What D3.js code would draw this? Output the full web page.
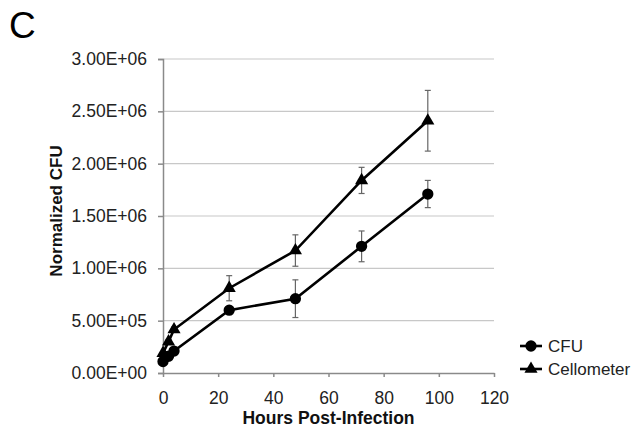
<!DOCTYPE html>
<html>
<head>
<meta charset="utf-8">
<script src="https://cdn.jsdelivr.net/npm/d3@7"></script>
<style>
  body { margin: 0; background: #fff; }
  svg { font-family: "Liberation Sans", Arial, sans-serif; }
</style>
</head>
<body>
<svg id="chart"></svg>
<script>
// data
const hours = [0, 2, 4, 24, 48, 72, 96];
const cfu = [1.1e5, 1.6e5, 2.1e5, 6.0e5, 7.1e5, 1.21e6, 1.71e6];
const cfuErr = [1.0e4, 1.0e4, 1.5e4, 2.5e4, 1.8e5, 1.47e5, 1.3e5];
const cello = [1.9e5, 3.0e5, 4.15e5, 8.1e5, 1.17e6, 1.84e6, 2.41e6];
const celloErr = [1.5e4, 2.0e4, 2.5e4, 1.2e5, 1.5e5, 1.25e5, 2.9e5];
const yTicks = [0, 5e5, 1e6, 1.5e6, 2e6, 2.5e6, 3e6];
const xTicks = [0, 20, 40, 60, 80, 100, 120];
const seriesNames = ['CFU', 'Cellometer'];

const width = 637, height = 437;
const margin = { top: 59, right: 143, bottom: 64, left: 163 };
const font = '"Liberation Sans", Arial, sans-serif';

const svg = d3.select('#chart').attr('width', width).attr('height', height);

const x = d3.scaleLinear().domain([0, 120]).range([margin.left, width - margin.right]);
const y = d3.scaleLinear().domain([0, 3e6]).range([height - margin.bottom, margin.top]);

const fmt = v => {
  const e = v === 0 ? 0 : Math.floor(Math.log10(v));
  const m = v === 0 ? 0 : v / Math.pow(10, e);
  return m.toFixed(2) + 'E+' + String(e).padStart(2, '0');
};

// gridlines
svg.append('g')
  .selectAll('line')
  .data(yTicks.slice(1))
  .enter()
  .append('line')
  .attr('x1', x(0)).attr('x2', x(120))
  .attr('y1', d => y(d)).attr('y2', d => y(d))
  .attr('stroke', '#c8c8c8')
  .attr('stroke-width', 1.2);

// y axis
const yAxis = svg.append('g')
  .attr('transform', `translate(${x(0)},0)`)
  .call(d3.axisLeft(y).tickValues(yTicks).tickFormat(fmt).tickSize(5).tickPadding(11));
yAxis.select('.domain').attr('stroke', '#8a8a8a').attr('stroke-width', 1.5);
yAxis.selectAll('.tick line').attr('stroke', '#8a8a8a').attr('stroke-width', 1.5);
yAxis.selectAll('.tick text').attr('font-size', '17.5px').attr('fill', '#222')
  .attr('font-family', font);

// x axis
const xAxis = svg.append('g')
  .attr('transform', `translate(0,${y(0)})`)
  .call(d3.axisBottom(x).tickValues(xTicks).tickSize(4).tickPadding(15).tickSizeOuter(0));
xAxis.select('.domain').attr('stroke', '#8a8a8a').attr('stroke-width', 1.5);
xAxis.selectAll('.tick line').attr('stroke', '#8a8a8a').attr('stroke-width', 1.5);
xAxis.selectAll('.tick text').attr('font-size', '17.5px').attr('fill', '#222')
  .attr('font-family', font);

// axis titles
svg.append('text')
  .attr('x', (x(0) + x(120)) / 2)
  .attr('y', 424)
  .attr('text-anchor', 'middle')
  .attr('font-size', '17.5px')
  .attr('font-weight', 'bold')
  .attr('fill', '#111')
  .text('Hours Post-Infection');

svg.append('text')
  .attr('transform', 'rotate(-90)')
  .attr('x', -211)
  .attr('y', 62)
  .attr('text-anchor', 'middle')
  .attr('font-size', '17px')
  .attr('font-weight', 'bold')
  .attr('fill', '#111')
  .text('Normalized CFU');

// panel letter
svg.append('text')
  .attr('x', 9)
  .attr('y', 38)
  .attr('font-size', '37px')
  .attr('fill', '#000')
  .text('C');

const series = [
  { name: seriesNames[0], vals: cfu, err: cfuErr, shape: d3.symbolCircle, size: 100 },
  { name: seriesNames[1], vals: cello, err: celloErr, shape: d3.symbolTriangle, size: 75 }
];

const line = d3.line().x(d => x(d[0])).y(d => y(d[1]));

series.forEach(s => {
  const pts = hours.map((h, i) => [h, s.vals[i], s.err[i]]);

  // error bars
  const eb = svg.append('g').attr('stroke', '#666').attr('stroke-width', 1.2);
  eb.selectAll('.v').data(pts).enter().append('line')
    .attr('x1', d => x(d[0])).attr('x2', d => x(d[0]))
    .attr('y1', d => y(d[1] + d[2])).attr('y2', d => y(d[1] - d[2]));
  [1, -1].forEach(sign => {
    eb.selectAll('.c' + sign).data(pts).enter().append('line')
      .attr('x1', d => x(d[0]) - 3).attr('x2', d => x(d[0]) + 3)
      .attr('y1', d => y(d[1] + sign * d[2])).attr('y2', d => y(d[1] + sign * d[2]));
  });

  svg.append('path')
    .datum(pts)
    .attr('d', line)
    .attr('fill', 'none')
    .attr('stroke', '#000')
    .attr('stroke-width', 2.6);

  svg.selectAll(null).data(pts).enter().append('path')
    .attr('d', d3.symbol().type(s.shape).size(s.size))
    .attr('transform', d => `translate(${x(d[0])},${y(d[1])})`)
    .attr('fill', '#000');
});

// legend
const legend = svg.append('g');
series.forEach((s, i) => {
  const ly = 346 + i * 23;
  legend.append('line')
    .attr('x1', 520).attr('x2', 542)
    .attr('y1', ly).attr('y2', ly)
    .attr('stroke', '#000').attr('stroke-width', 2.6);
  legend.append('path')
    .attr('d', d3.symbol().type(s.shape).size(s.size))
    .attr('transform', `translate(531,${ly})`)
    .attr('fill', '#000');
  legend.append('text')
    .attr('x', 548).attr('y', ly + 6)
    .attr('font-size', '17px')
    .attr('fill', '#222')
    .text(s.name);
});
</script>
</body>
</html>
